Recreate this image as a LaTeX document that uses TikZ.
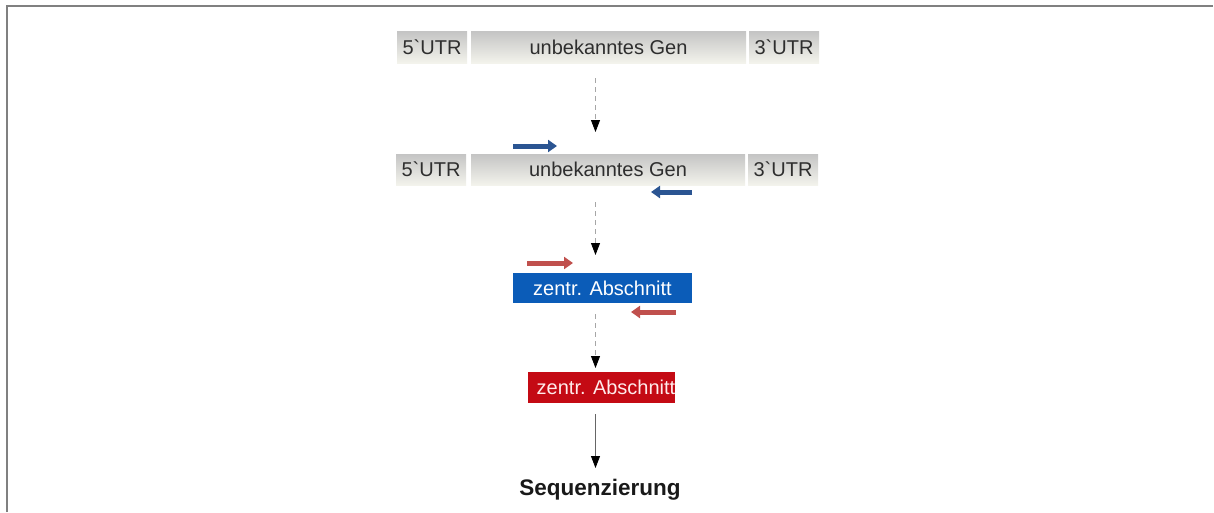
\documentclass[tikz,border=0pt]{standalone}
\usepackage{fontspec}
\setmainfont{Liberation Sans}[Ligatures=TeXOff]
\usetikzlibrary{arrows.meta,calc}
\definecolor{gtop}{HTML}{C4C4C4}
\definecolor{gbot}{HTML}{F3F3EC}
\definecolor{gtext}{HTML}{2E2E2E}
\definecolor{pblue}{HTML}{2B5592}
\definecolor{pred}{HTML}{C0504D}
\definecolor{boxblue}{HTML}{0B5CB8}
\definecolor{boxred}{HTML}{C40A14}
\definecolor{frame}{HTML}{808080}
\tikzset{
  genbox/.style={inner sep=0pt, outer sep=0pt, top color=gtop, bottom color=gbot, draw=none,
    text=gtext, font=\fontsize{20}{23}\selectfont},
  primerB/.style={line width=5pt, draw=pblue, -{Triangle[length=9pt,width=12pt]}},
  primerR/.style={line width=5pt, draw=pred, -{Triangle[length=9pt,width=12pt]}},
  dstep/.style={draw=gray!70, dash pattern=on 5pt off 4pt, line width=0.8pt,
    -{Triangle[length=12pt,width=9pt,black]}},
  fragbox/.style={inner sep=0pt, outer sep=0pt, draw=none, font=\fontsize{20}{23}\selectfont}
}
\begin{document}
\begin{tikzpicture}[x=1pt,y=-1pt]
\useasboundingbox (0,0) rectangle (1214,512);
% frame
\draw[frame, line width=2pt] (6.5,512) -- (6.5,5.5) -- (1213,5.5);

% row 1
\node[genbox, minimum width=70pt, minimum height=32pt] (u5a) at (432,47) {5`UTR};
\node[genbox, minimum width=275pt, minimum height=32pt] (gena) at (608.5,47) {unbekanntes Gen};
\node[genbox, minimum width=70pt, minimum height=32pt] (u3a) at (784,47) {3`UTR};

% row 2
\node[genbox, minimum width=70pt, minimum height=31pt] (u5b) at (431,169.5) {5`UTR};
\node[genbox, minimum width=274pt, minimum height=31pt] (genb) at (608,169.5) {unbekanntes Gen};
\node[genbox, minimum width=70pt, minimum height=31pt] (u3b) at (783,169.5) {3`UTR};

% blue primers
\coordinate (bf1) at (513,146);
\coordinate (bf2) at (557,146);
\coordinate (br1) at (692,192);
\coordinate (br2) at (651,192);
\draw[primerB] (bf1) -- (bf2);
\draw[primerB] (br1) -- (br2);

% blue fragment
\node[fragbox, fill=boxblue, text=white, minimum width=179pt, minimum height=30pt] (fragb) at (602.5,288) {zentr. Abschnitt};

% red primers
\coordinate (rf1) at (527,263);
\coordinate (rf2) at (573,263);
\coordinate (rr1) at (676,312);
\coordinate (rr2) at (631,312);
\draw[primerR] (rf1) -- (rf2);
\draw[primerR] (rr1) -- (rr2);

% red fragment
\node[fragbox, fill=boxred, text=red!8, minimum width=147pt, minimum height=31pt] (fragr) at (601.5,387.5) {\hspace*{9pt}zentr. Abschnitt};

% final label
\node[font=\bfseries\fontsize{22.5}{26}\selectfont, text=black!90, inner sep=0pt] (seq) at (600,490) {Sequenzierung};

% connectors
\coordinate (a1s) at (595.5,78);
\coordinate (a1e) at (595.5,132);
\coordinate (a2s) at (595.5,202);
\coordinate (a2e) at (595.5,255);
\coordinate (a3s) at (595.5,314);
\coordinate (a3e) at (595.5,368);
\coordinate (a4s) at (595.5,414);
\coordinate (a4e) at (595.5,468);
\draw[dstep] (a1s) -- (a1e);
\draw[dstep] (a2s) -- (a2e);
\draw[dstep] (a3s) -- (a3e);
\draw[draw=gray!80!black, line width=0.8pt, -{Triangle[length=12pt,width=9pt,black]}] (a4s) -- (a4e);
\end{tikzpicture}
\end{document}
